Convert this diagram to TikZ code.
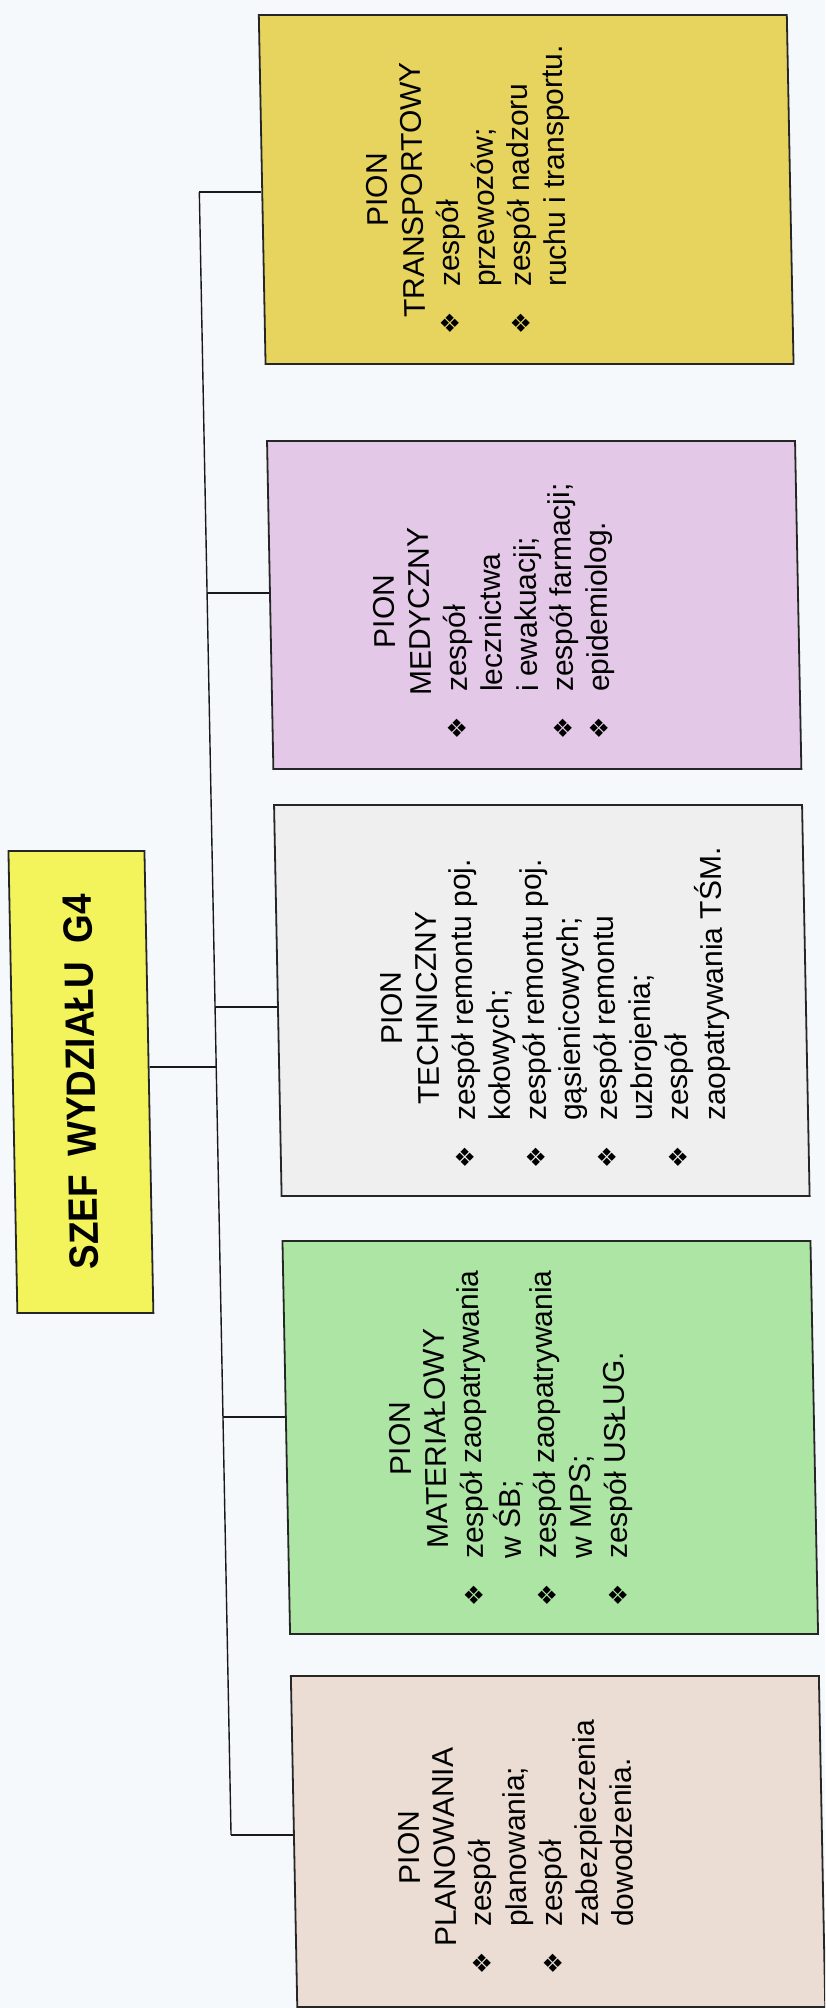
\documentclass[tikz,border=0pt]{standalone}
\usepackage{fontspec}
\setmainfont{Liberation Sans}
\newfontfamily\symfont{DejaVu Sans}
\definecolor{paper}{HTML}{F6F9FB}
\definecolor{ctrans}{HTML}{E6D45E}
\definecolor{cmed}{HTML}{E4C8E8}
\definecolor{ctech}{HTML}{EFEFEF}
\definecolor{cmat}{HTML}{ACE5A4}
\definecolor{cplan}{HTML}{EBDDD3}
\definecolor{cszef}{HTML}{F3F45C}
% bullet and list lines for the unit boxes
\newcommand\bul{{\symfont\fontsize{25}{25}\selectfont\raisebox{1.5pt}{❖}}}
\newcommand\itm[1]{\makebox[48pt][l]{\bul}#1}
\newcommand\cnt[1]{\hspace*{48pt}#1}
\newcommand\ttl[1]{\multicolumn{1}{@{}c@{}}{#1}}
\begin{document}
\begin{tikzpicture}[x=1pt,y=-1pt,
  unitbox/.style={draw=black!85, line width=1.8pt, minimum width=528pt,
    inner sep=0pt, anchor=north west},
  txt/.style={rotate=90, anchor=north west, inner sep=0pt,
    font=\fontsize{30}{35.5}\selectfont},
  conn/.style={line width=1.4pt, draw=black!90}]
\fill[paper] (0,0) rectangle (825,2008);
\useasboundingbox (0,0) rectangle (825,2008);
\clip (0,0) rectangle (825,2008);
% the whole chart leans slightly: vertical lines drift right going down
\begin{scope}[cm={1,0,-0.0193,1,(-19.38pt,0pt)}, transform shape]
  % head of the division
  \node[draw=black!85, line width=1.8pt, fill=cszef, minimum width=136pt,
    minimum height=462pt, anchor=north west, inner sep=0pt] (szef) at (10.5,850) {};
  \node[rotate=90, inner sep=0pt, font=\bfseries\fontsize{41}{41}\selectfont]
    (szefT) at (szef.center) {\scalebox{0.9}[1]{SZEF\hspace{.5em}WYDZIAŁU\hspace{.5em}G4}};

  % unit boxes
  \node[unitbox, fill=ctrans, minimum height=349pt] (tr) at (277,14) {};
  \node[unitbox, fill=cmed, minimum height=328pt] (med) at (277,440) {};
  \node[unitbox, fill=ctech, minimum height=391pt] (tech) at (277,804) {};
  \node[unitbox, fill=cmat, minimum height=393pt] (mat) at (277,1240) {};
  \node[unitbox, fill=cplan, minimum height=331pt] (plan) at (277,1675) {};

  \node[txt] (trT) at (378,335) {\begin{tabular}{@{}l@{}}
    \ttl{PION}\\ \ttl{TRANSPORTOWY}\\
    \itm{zespół}\\ \cnt{przewozów;}\\
    \itm{zespół nadzoru}\\ \cnt{ruchu i transportu.}
  \end{tabular}};
  \node[txt] (medT) at (377,740) {\begin{tabular}{@{}l@{}}
    \ttl{PION}\\ \ttl{MEDYCZNY}\\
    \itm{zespół}\\ \cnt{lecznictwa}\\ \cnt{i ewakuacji;}\\
    \itm{zespół farmacji;}\\
    \itm{epidemiolog.}
  \end{tabular}};
  \node[txt] (techT) at (377,1169) {\begin{tabular}{@{}l@{}}
    \ttl{PION}\\ \ttl{TECHNICZNY}\\
    \itm{zespół remontu poj.}\\ \cnt{kołowych;}\\
    \itm{zespół remontu poj.}\\ \cnt{gąsienicowych;}\\
    \itm{zespół remontu}\\ \cnt{uzbrojenia;}\\
    \itm{zespół}\\ \cnt{zaopatrywania TŚM.}
  \end{tabular}};
  \node[txt] (matT) at (377,1607) {\begin{tabular}{@{}l@{}}
    \ttl{PION}\\ \ttl{MATERIAŁOWY}\\
    \itm{zespół zaopatrywania}\\ \cnt{w ŚB;}\\
    \itm{zespół zaopatrywania}\\ \cnt{w MPS;}\\
    \itm{zespół USŁUG.}
  \end{tabular}};
  \node[txt] (planT) at (378,1975) {\begin{tabular}{@{}l@{}}
    \ttl{PION}\\ \ttl{PLANOWANIA}\\
    \itm{zespół}\\ \cnt{planowania;}\\
    \itm{zespół}\\ \cnt{zabezpieczenia}\\ \cnt{dowodzenia.}
  \end{tabular}};

  % trunk and branches
  \coordinate (jTr) at (215,192);
  \coordinate (jMed) at (215,593);
  \coordinate (jTech) at (215,1007);
  \coordinate (jSzef) at (215,1067);
  \coordinate (jMat) at (215,1417);
  \coordinate (jPlan) at (215,1835);
  \draw[conn] (jTr) -- (jPlan);
  \draw[conn] (jTr) -- (jTr -| tr.west);
  \draw[conn] (jMed) -- (jMed -| med.west);
  \draw[conn] (jTech) -- (jTech -| tech.west);
  \draw[conn] (jMat) -- (jMat -| mat.west);
  \draw[conn] (jPlan) -- (jPlan -| plan.west);
  \draw[conn] (jSzef -| szef.east) -- (jSzef);
\end{scope}
\end{tikzpicture}
\end{document}
